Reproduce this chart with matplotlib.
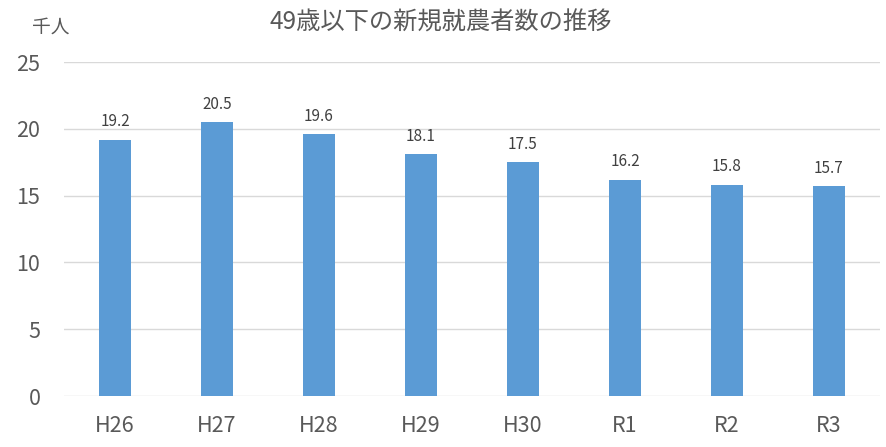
import matplotlib.pyplot as plt
import numpy as np

plt.rcParams["font.family"] = ["Noto Sans CJK JP", "DejaVu Sans"]

years = ["H26", "H27", "H28", "H29", "H30", "R1", "R2", "R3"]
farmers = [19.2, 20.5, 19.6, 18.1, 17.5, 16.2, 15.8, 15.7]
yticks = [0, 5, 10, 15, 20, 25]

text_color = "#595959"
bar_color = "#5B9BD5"

fig = plt.figure(figsize=(8.86, 4.47), dpi=100)
ax = fig.add_axes([0.0722, 0.114, 0.9210, 0.747])

x = np.arange(len(years))
bars = ax.bar(x, farmers, width=0.31, color=bar_color, zorder=3)

for rect, val in zip(bars, farmers):
    ax.annotate(
        f"{val:.1f}",
        (rect.get_x() + rect.get_width() / 2, rect.get_height()),
        xytext=(0, 7),
        textcoords="offset points",
        ha="center",
        va="bottom",
        fontsize=11,
        color="#404040",
    )

ax.set_xlim(-0.5, len(years) - 0.5)
ax.set_ylim(0, 25)
ax.set_yticks(yticks)
ax.set_xticks(x)
ax.set_xticklabels(years)
ax.tick_params(axis="both", length=0, labelsize=15.5, colors=text_color)
ax.tick_params(axis="x", pad=14)
ax.tick_params(axis="y", pad=17)

ax.grid(axis="y", color="#D9D9D9", linewidth=1, zorder=0)
for s in ax.spines.values():
    s.set_visible(False)

fig.text(0.497, 0.95, "49歳以下の新規就農者数の推移", ha="center", va="center",
         fontsize=17.5, color=text_color)
fig.text(0.036, 0.94, "千人", ha="left", va="center", fontsize=13.5, color=text_color)

fig.savefig("out.png", dpi=100)
